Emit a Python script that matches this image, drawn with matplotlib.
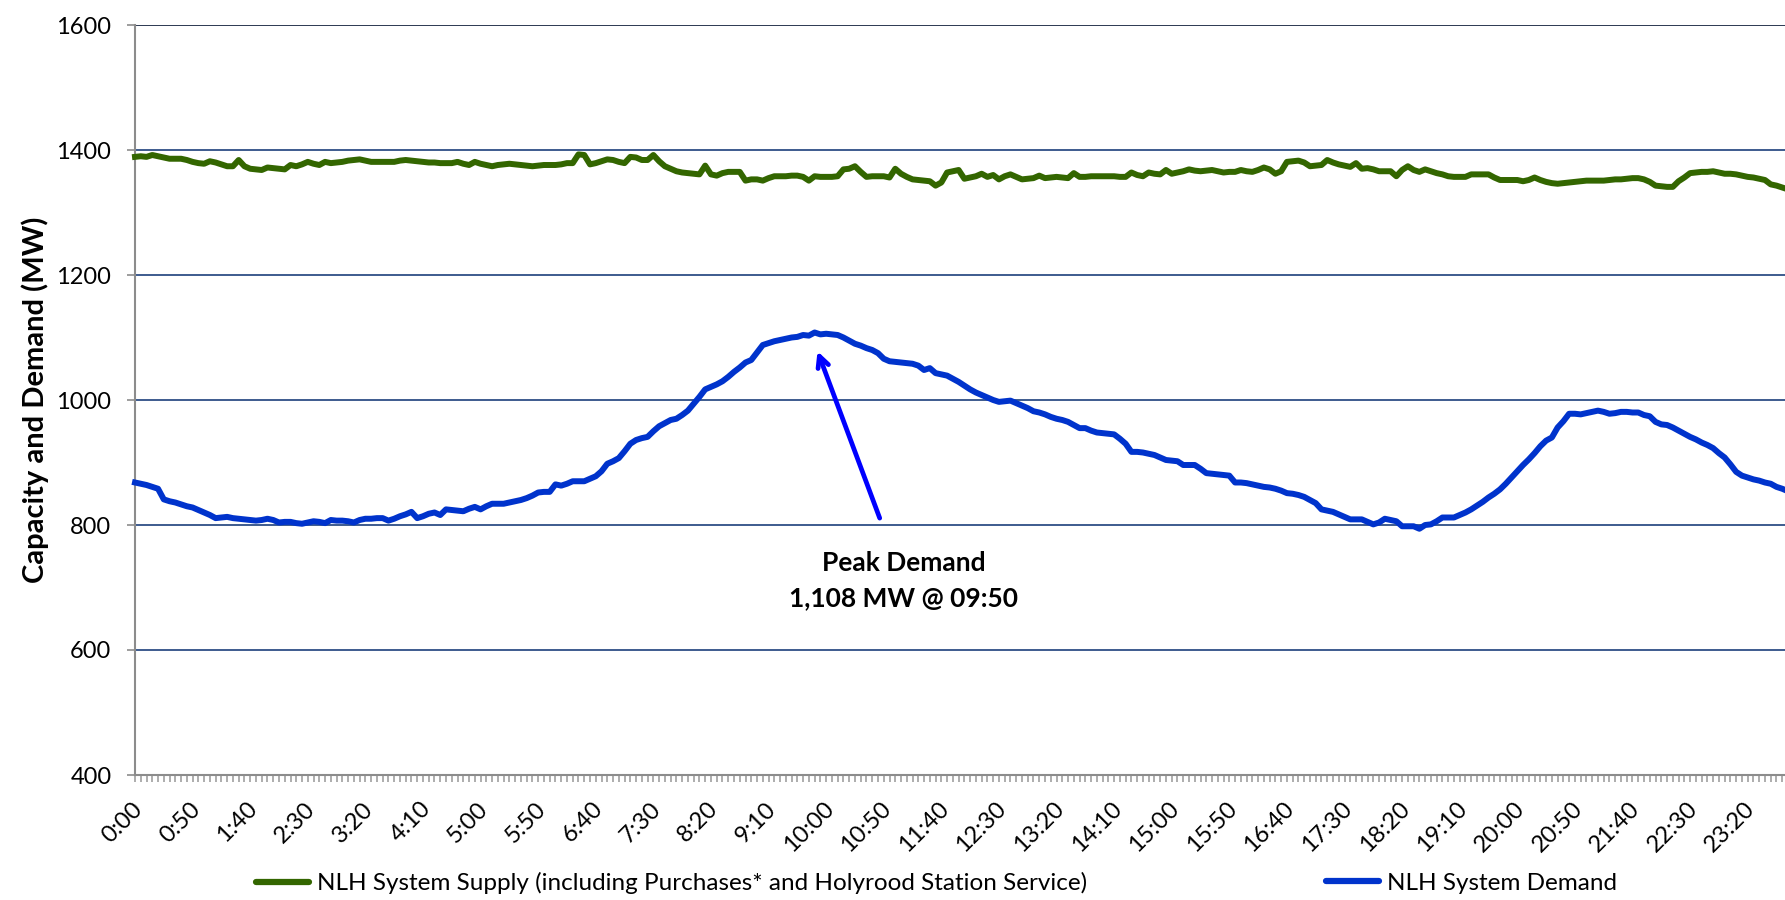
import numpy as np
import matplotlib
matplotlib.use("Agg")
import matplotlib.pyplot as plt
from matplotlib.lines import Line2D
import matplotlib.transforms as mtransforms

plt.rcParams['font.family'] = ['Lato', 'DejaVu Sans']

# 5-minute demand (MW), 0:00 .. 23:55
demand = [
    868, 866, 864, 861, 858, 841, 838, 836, 833, 830, 828, 824,
    820, 816, 811, 812, 813, 811, 810, 809, 808, 807, 808, 810,
    808, 804, 805, 805, 803, 802, 804, 806, 805, 803, 808, 807,
    807, 806, 804, 808, 810, 810, 811, 811, 807, 810, 814, 817,
    821, 811, 814, 818, 820, 816, 825, 824, 823, 822, 826, 829,
    825, 830, 834, 834, 834, 836, 838, 840, 843, 847, 852, 853,
    853, 865, 863, 866, 870, 870, 870, 874, 878, 886, 898, 902,
    907, 918, 930, 936, 939, 941, 950, 958, 963, 968, 970, 976,
    983, 994, 1005, 1017, 1021, 1025, 1030, 1037, 1045, 1052, 1060, 1064,
    1076, 1088, 1091, 1094, 1096, 1098, 1100, 1101, 1104, 1103, 1108, 1105,
    1106, 1105, 1104, 1100, 1095, 1090, 1087, 1083, 1080, 1075, 1066, 1062,
    1061, 1060, 1059, 1058, 1055, 1048, 1051, 1043, 1041, 1039, 1034, 1029,
    1023, 1017, 1012, 1008, 1004, 1000, 997, 998, 999, 995, 991, 987,
    982, 980, 977, 973, 970, 968, 965, 960, 955, 955, 951, 948,
    947, 946, 945, 938, 930, 917, 917, 916, 914, 912, 908, 904,
    903, 902, 896, 896, 896, 890, 883, 882, 881, 880, 879, 868,
    868, 867, 865, 863, 861, 860, 858, 855, 851, 850, 848, 845,
    840, 835, 825, 823, 821, 817, 813, 809, 809, 809, 805, 801,
    804, 810, 808, 806, 798, 798, 798, 794, 800, 801, 806, 812,
    812, 812, 816, 820, 825, 831, 837, 844, 850, 857, 866, 876,
    886, 896, 905, 915, 926, 935, 940, 956, 966, 978, 978, 977,
    979, 981, 983, 981, 978, 979, 981, 981, 980, 980, 976, 974,
    965, 961, 960, 956, 951, 946, 941, 937, 932, 928, 923, 915,
    908, 897, 885, 879, 876, 873, 871, 868, 866, 861, 858, 854,
]

# 5-minute supply (MW)
supply = [
    1389, 1390, 1389, 1392, 1390, 1388, 1386, 1386, 1386, 1384, 1381, 1379,
    1378, 1382, 1380, 1377, 1374, 1374, 1384, 1374, 1370, 1369, 1368, 1372,
    1371, 1370, 1369, 1376, 1374, 1377, 1381, 1378, 1376, 1381, 1379, 1380,
    1381, 1383, 1384, 1385, 1383, 1381, 1381, 1381, 1381, 1381, 1383, 1384,
    1383, 1382, 1381, 1380, 1380, 1379, 1379, 1379, 1381, 1378, 1376, 1381,
    1378, 1376, 1374, 1376, 1377, 1378, 1377, 1376, 1375, 1374, 1375, 1376,
    1376, 1376, 1377, 1379, 1379, 1393, 1392, 1377, 1379, 1382, 1385, 1384,
    1381, 1379, 1389, 1388, 1384, 1384, 1392, 1382, 1374, 1370, 1366, 1364,
    1363, 1362, 1361, 1375, 1361, 1359, 1363, 1365, 1365, 1365, 1351, 1353,
    1353, 1351, 1355, 1358, 1358, 1358, 1359, 1359, 1357, 1351, 1358, 1357,
    1357, 1357, 1358, 1369, 1370, 1374, 1365, 1357, 1358, 1358, 1358, 1356,
    1370, 1362, 1357, 1353, 1352, 1351, 1350, 1343, 1348, 1364, 1366, 1368,
    1354, 1356, 1358, 1362, 1357, 1360, 1353, 1358, 1361, 1357, 1353, 1354,
    1355, 1359, 1355, 1356, 1357, 1356, 1355, 1363, 1357, 1357, 1358, 1358,
    1358, 1358, 1358, 1357, 1357, 1364, 1360, 1358, 1364, 1362, 1361, 1368,
    1362, 1364, 1366, 1369, 1367, 1366, 1367, 1368, 1366, 1364, 1365, 1365,
    1368, 1366, 1365, 1368, 1372, 1369, 1362, 1366, 1381, 1382, 1383, 1380,
    1374, 1375, 1376, 1384, 1380, 1377, 1375, 1373, 1379, 1370, 1371, 1369,
    1366, 1366, 1366, 1358, 1368, 1374, 1368, 1365, 1369, 1366, 1363, 1361,
    1358, 1357, 1357, 1357, 1361, 1361, 1361, 1361, 1356, 1352, 1352, 1352,
    1352, 1350, 1352, 1356, 1352, 1349, 1347, 1346, 1347, 1348, 1349, 1350,
    1351, 1351, 1351, 1351, 1352, 1353, 1353, 1354, 1355, 1355, 1353, 1349,
    1343, 1342, 1341, 1341, 1350, 1356, 1363, 1364, 1365, 1365, 1366, 1364,
    1362, 1362, 1361, 1359, 1357, 1356, 1354, 1352, 1345, 1343, 1340, 1337,
]

tick_labels = ['0:00', '0:50', '1:40', '2:30', '3:20', '4:10', '5:00', '5:50',
               '6:40', '7:30', '8:20', '9:10', '10:00', '10:50', '11:40',
               '12:30', '13:20', '14:10', '15:00', '15:50', '16:40', '17:30',
               '18:20', '19:10', '20:00', '20:50', '21:40', '22:30', '23:20']

peak_value = 1108
peak_label = "Peak Demand\n1,108 MW @ 09:50"
peak_index = 118

supply_name = "NLH System Supply (including Purchases* and Holyrood Station Service)"
demand_name = "NLH System Demand"

GREEN = '#336600'
BLUE = '#0033CC'
GRID = '#2E4E86'
GRAY = '#8C8C8C'
FS = 17.5
TFS = 17

W, H = 1785, 900
fig = plt.figure(figsize=(W / 100, H / 100), dpi=100)
n = len(demand)
left, right, top, bottom = 135, 1788, 25, 775
ax = fig.add_axes([left / W, 1 - bottom / H, (right - left) / W, (bottom - top) / H])

x = np.arange(n)
ax.plot(x, supply, color=GREEN, lw=4.3, solid_joinstyle='round', zorder=3, clip_on=False)
ax.plot(x, demand, color=BLUE, lw=4.3, solid_joinstyle='round', zorder=3, clip_on=False)

ax.set_xlim(0, n - 1)
ax.set_ylim(400, 1600)
ax.set_yticks(np.arange(400, 1601, 200))
for v in np.arange(600, 1601, 200):
    ax.axhline(v, color=GRID if v < 1600 else '#1B2A44', lw=1.3, zorder=1)

for s in ['top', 'right']:
    ax.spines[s].set_visible(False)
for s in ['left', 'bottom']:
    ax.spines[s].set_color(GRAY)
    ax.spines[s].set_linewidth(1.5)

ax.set_xticks(np.arange(0, n, 10))
ax.set_xticklabels(tick_labels, rotation=45, ha='right', va='center',
                   rotation_mode='anchor', fontsize=TFS)
ax.set_xticks(x, minor=True)
ax.tick_params(axis='x', which='both', direction='out', length=5, width=1.2,
               color='#A0A0A0', pad=17)
ax.tick_params(axis='y', direction='out', length=6, width=1.2, color=GRAY,
               labelsize=TFS, pad=11)
offset = mtransforms.ScaledTranslation(4 / 100, 0, fig.dpi_scale_trans)
for lab in ax.get_xticklabels():
    lab.set_transform(lab.get_transform() + offset)

ax.set_ylabel("Capacity and Demand (MW)", fontsize=21, fontweight='bold', labelpad=5)

ax.annotate("", xy=(peak_index + 0.5, peak_value - 30), xytext=(129.3, 811),
            arrowprops=dict(arrowstyle='->,head_length=0.8,head_width=0.4',
                            color='#0000FF', lw=3.4, shrinkA=0, shrinkB=0), zorder=4)
ax.text(133.5, 711, peak_label, ha='center', va='center', fontsize=19,
        fontweight='bold', linespacing=1.6, zorder=4)

h1 = [Line2D([], [], color=GREEN, lw=4.5, solid_capstyle='round')]
h2 = [Line2D([], [], color=BLUE, lw=4.5, solid_capstyle='round')]
common = dict(loc='center left', frameon=False, fontsize=FS, handlelength=2.2,
              handletextpad=0.3, borderaxespad=0, borderpad=0)
fig.legend(h1, [supply_name], bbox_to_anchor=(256 / W, 1 - 883 / H), **common)
fig.legend(h2, [demand_name], bbox_to_anchor=(1326 / W, 1 - 883 / H), **common)

fig.savefig("out.png", dpi=100)
